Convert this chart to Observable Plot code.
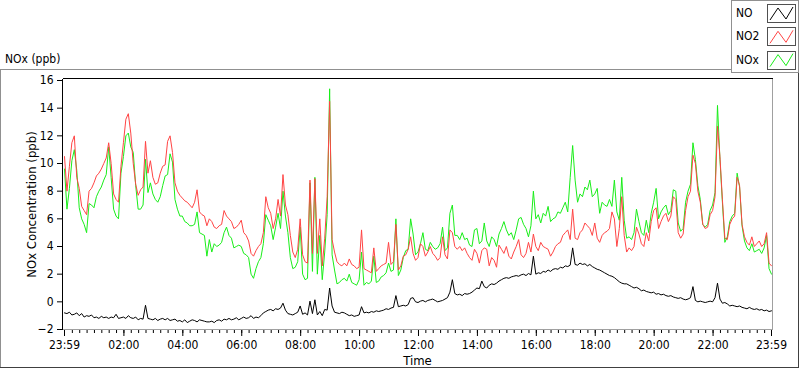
<!DOCTYPE html>
<html><head><meta charset="utf-8">
<script src="https://cdn.jsdelivr.net/npm/d3@7"></script>
<script src="https://cdn.jsdelivr.net/npm/@observablehq/plot@0.6"></script>
<style>html,body{margin:0;padding:0;background:#fff;}</style>
</head><body><div id="chart"></div>
<script>
const FONT = "'Liberation Sans Narrow','DejaVu Sans Condensed',Roboto,sans-serif";
const seriesNames = ["NO", "NO2", "NOx"];
const seriesColors = ["#000000", "#ff4444", "#19ee19"];
const startMinute = -1, stepMinutes = 5;

const NO = [
-0.8,-0.85,-0.75,-0.95,-0.9,-0.8,-1.0,-0.85,-1.1,-1.0,
-1.05,-0.95,-1.15,-1.1,-1.2,-1.05,-1.15,-1.1,-1.2,-1.1,
-1.15,-0.9,-1.2,-1.15,-1.1,-1.2,-1.0,-1.15,-1.2,-1.1,
-1.3,-1.2,-1.25,-0.25,-1.2,-1.25,-1.3,-1.2,-1.35,-1.25,
-1.2,-1.3,-1.2,-1.35,-1.3,-1.25,-1.4,-1.35,-1.45,-1.3,
-1.5,-1.4,-1.3,-1.35,-1.45,-1.3,-1.35,-1.4,-1.45,
-1.45,-1.4,-1.5,-1.35,-1.3,-1.4,-1.25,-1.3,-1.2,-1.3,
-1.25,-1.15,-1.3,-1.2,-1.1,-1.2,-1.15,-1.0,-1.2,-1.1,
-1.15,-1.0,-0.8,-0.7,-0.6,-0.55,-0.65,-0.5,-0.55,-0.45,
-0.1,-0.6,-0.85,-0.9,-0.95,-0.85,-0.75,-0.3,-0.9,-0.8,
-0.95,0.05,-0.85,0.15,-0.95,-0.7,-1.0,-0.55,-0.6,1.0,
-0.3,-0.75,-0.8,-0.85,-0.75,-0.8,
-0.9,-1.0,-0.95,-1.05,-1.0,-0.95,-0.35,-0.8,-0.75,-0.8,
-0.7,-0.75,-0.65,-0.7,-0.65,-0.6,-0.5,-0.55,-0.45,-0.4,
0.45,-0.35,-0.3,-0.25,-0.3,-0.2,0.25,0.3,0.0,-0.05,
0.05,0.1,0.0,0.1,0.15,0.2,0.1,0.0,0.05,0.1,
0.2,0.3,0.7,1.6,0.6,0.5,0.55,0.45,0.6,0.55,
0.6,0.7,0.85,1.0,0.95,1.5,1.1,
1.0,1.2,1.3,1.25,1.35,1.5,1.6,1.7,1.75,1.7,
1.8,1.85,1.9,1.85,1.95,2.0,1.9,2.05,1.95,3.3,
2.0,2.1,2.05,2.2,2.15,2.3,2.2,2.35,2.4,2.35,
2.5,2.45,2.6,2.55,2.65,3.9,2.7,2.65,2.8,2.7,
2.75,2.6,2.7,2.55,2.45,2.35,2.3,2.2,2.1,2.0,
1.9,1.85,1.75,1.6,1.45,1.35,1.3,
1.3,1.2,1.1,1.0,1.05,0.95,0.8,0.85,0.75,0.7,
0.65,0.7,0.55,0.6,0.5,0.55,0.45,0.4,0.45,0.35,
0.3,0.25,0.3,0.2,0.15,0.2,0.3,1.1,0.1,0.0,
0.05,0.0,-0.05,0.0,0.05,0.0,0.3,1.35,0.2,-0.1,
-0.05,-0.15,-0.3,-0.25,-0.3,-0.35,-0.3,-0.4,-0.45,-0.5,
-0.4,-0.5,-0.55,-0.5,-0.6,-0.55,-0.65,-0.6,-0.7,-0.65
];

const NO2 = [
10.5,8.0,9.8,11.5,12.0,9.0,8.2,6.9,6.6,6.3,
8.0,8.2,8.6,9.1,9.3,9.6,10.0,10.4,11.5,10.0,
7.8,7.4,7.2,9.8,11.5,13.2,13.6,12.2,10.0,8.5,
7.7,8.1,8.3,11.6,9.3,10.2,9.0,8.5,8.6,9.3,
9.8,9.9,11.6,12.0,10.8,8.6,8.0,7.7,7.5,7.3,
7.2,7.0,6.8,7.2,8.1,6.5,6.3,6.2,5.5,
6.0,5.8,5.4,5.3,5.5,5.6,6.6,6.2,6.0,5.8,
5.3,5.4,5.6,5.9,5.0,4.8,4.4,3.5,3.3,3.7,
4.0,4.2,5.0,7.6,6.8,6.4,5.3,6.0,7.4,6.2,
9.2,7.0,6.3,4.8,3.6,3.2,3.8,6.0,3.4,2.9,
2.8,8.8,3.5,8.9,3.5,6.0,2.6,4.6,7.6,14.5,
4.5,3.6,2.9,2.7,2.6,2.8,
2.6,3.1,2.7,2.6,2.4,2.5,5.2,2.4,2.3,2.2,
2.1,3.9,2.2,2.4,2.6,2.7,2.8,4.3,2.7,2.9,
5.6,2.3,2.6,3.3,3.4,3.8,4.7,3.5,3.0,3.2,
4.2,4.0,3.3,3.6,4.0,3.5,3.3,3.0,3.2,4.7,
3.4,3.1,5.2,5.0,4.0,3.8,4.0,3.7,3.9,3.5,
3.2,3.0,3.8,3.5,2.8,3.7,3.9,
3.8,2.6,3.2,3.0,2.5,4.1,3.8,3.5,4.0,3.3,
3.1,3.6,4.0,4.5,3.4,3.2,3.5,4.3,3.6,4.9,
4.0,3.7,4.3,4.0,3.9,3.8,3.3,3.6,4.0,4.2,
4.3,4.8,5.0,5.2,4.5,6.7,4.6,4.5,5.0,5.2,
5.7,5.5,5.3,4.8,5.7,4.6,4.3,4.8,5.0,5.1,
5.3,6.5,6.0,4.0,5.3,7.6,4.8,
3.6,3.9,3.7,4.0,5.4,4.9,4.2,4.0,5.0,4.4,
5.8,6.6,6.8,5.3,5.8,6.2,6.4,5.8,6.2,7.6,
7.4,5.0,4.6,4.9,6.6,7.6,8.0,10.6,10.0,8.0,
7.2,5.6,5.3,5.4,6.3,6.6,7.6,12.7,10.5,7.4,
4.6,4.5,5.6,6.0,6.2,9.0,8.4,5.6,4.7,4.3,
4.1,4.7,4.0,4.2,4.4,4.0,4.2,5.0,2.8,2.6
];

const NOx = [
9.6,6.7,8.2,10.2,11.0,9.5,6.8,6.0,5.6,5.0,
7.1,7.0,6.8,7.6,8.0,8.3,8.8,9.2,11.2,9.0,
6.7,6.2,6.0,9.3,10.5,12.0,12.2,11.2,10.8,8.4,
6.7,6.7,7.0,10.3,7.9,8.6,7.8,7.4,7.2,7.6,
8.4,9.1,9.2,10.7,10.1,7.4,6.7,6.2,6.2,5.8,
5.7,5.5,5.5,5.6,6.5,5.0,4.9,4.8,3.3,
4.5,3.6,4.2,4.0,4.1,4.3,5.0,5.4,4.8,4.6,
3.9,4.0,4.1,4.0,3.5,3.4,3.2,2.0,1.7,2.4,
2.9,3.2,4.2,6.3,5.9,5.5,4.5,5.4,6.4,5.3,
8.0,6.2,5.0,3.2,2.4,2.5,2.9,5.4,2.0,1.6,
1.7,8.6,2.2,9.0,2.0,4.8,1.6,3.6,6.3,15.4,
3.4,2.3,1.3,1.4,1.6,1.7,
1.5,2.0,1.4,1.3,1.2,1.6,3.6,1.2,1.4,1.3,
1.5,3.3,1.4,1.5,1.8,1.9,2.1,2.8,2.2,2.3,
6.0,1.9,2.3,3.2,3.7,3.8,6.0,4.9,3.4,3.6,
4.2,5.0,3.8,3.7,4.3,4.0,3.8,3.9,4.2,5.4,
3.7,3.9,6.4,7.0,4.8,4.8,4.5,5.0,4.5,4.6,
4.1,4.0,5.2,5.3,4.2,4.4,5.7,
4.4,4.0,4.7,4.5,4.0,4.9,5.3,5.8,5.2,4.8,
5.0,4.5,5.2,6.0,6.1,5.6,5.3,4.7,5.5,8.0,
6.0,6.3,5.7,6.4,6.2,6.9,5.8,6.0,6.1,6.5,
6.4,6.8,7.2,6.5,9.0,11.3,8.8,7.2,7.8,7.6,
8.3,8.1,8.8,7.6,7.8,8.2,6.4,7.2,7.0,6.9,
7.4,6.9,8.8,6.5,5.9,9.0,5.9,
4.6,4.7,4.5,5.0,6.7,5.8,5.0,4.8,5.9,5.0,
6.4,7.2,8.2,6.0,6.5,6.8,7.0,6.3,6.6,8.1,
8.0,5.7,5.1,5.3,7.2,8.0,8.5,11.5,10.3,8.4,
7.4,5.6,5.4,5.6,6.6,7.0,7.9,14.2,10.3,7.2,
4.3,4.7,5.8,6.2,6.4,9.3,8.3,5.5,4.4,3.9,
3.7,4.2,3.6,3.7,3.8,3.5,3.9,4.8,2.4,2.0
];

const yTicks = [-2, 0, 2, 4, 6, 8, 10, 12, 14, 16];
const xTickMinutes = [-1, 120, 240, 360, 480, 600, 720, 840, 960, 1080, 1200, 1320, 1439];
const xTickLabels = ["23:59","02:00","04:00","06:00","08:00","10:00","12:00","14:00","16:00","18:00","20:00","22:00","23:59"];
const minorTickMinutes = [-1, ...d3.range(15, 1439, 15), 1439];
const labelOf = new Map(xTickMinutes.map((m, i) => [m, xTickLabels[i]]));

const allSeries = [NO, NO2, NOx];
const rowsOf = (k) => allSeries[k].map((v, i) => ({series: seriesNames[k], t: startMinute + i * stepMinutes, v}));

const plot = Plot.plot({
  width: 800, height: 369,
  marginLeft: 64, marginRight: 29, marginTop: 80, marginBottom: 40,
  style: {fontFamily: FONT, fontSize: "12px", background: "white", color: "#000", overflow: "visible"},
  x: {domain: [-1, 1439]},
  y: {domain: [-2, 16]},
  marks: [
    Plot.axisY({ticks: yTicks, tickSize: 5, tickPadding: 4, dx: -2, label: null, fontSize: 12}),
    Plot.axisX({ticks: minorTickMinutes, tickSize: 3, dy: 1, tickFormat: () => "", label: null}),
    Plot.axisX({ticks: xTickMinutes, tickSize: 6, tickPadding: 4, dy: 1, tickFormat: d => labelOf.get(d), label: null, fontSize: 12}),
    Plot.line(rowsOf(2), {x: "t", y: "v", stroke: seriesColors[2], strokeWidth: 1}),
    Plot.line(rowsOf(1), {x: "t", y: "v", stroke: seriesColors[1], strokeWidth: 1}),
    Plot.line(rowsOf(0), {x: "t", y: "v", stroke: seriesColors[0], strokeWidth: 1})
  ]
});

const svg = d3.select(plot);
const xr = plot.scale("x").range, yr = plot.scale("y").range;
const fx0 = xr[0] - 1.5, fx1 = xr[1] + 1.5, fy0 = yr[1] - 1.5, fy1 = yr[0] + 0.5;
const deco = svg.append("g").attr("fill", "none").attr("shape-rendering", "crispEdges");
// plot frame (sunken look)
deco.append("line").attr("x1", fx0).attr("x2", fx1).attr("y1", fy0).attr("y2", fy0).attr("stroke", "#000");
deco.append("line").attr("x1", fx0).attr("x2", fx0).attr("y1", fy0).attr("y2", fy1).attr("stroke", "#000");
deco.append("line").attr("x1", fx1).attr("x2", fx1).attr("y1", fy0).attr("y2", fy1).attr("stroke", "#a0a0a0");
deco.append("line").attr("x1", fx0).attr("x2", fx1).attr("y1", fy1).attr("y2", fy1).attr("stroke", "#a0a0a0");
// outer panel
deco.append("line").attr("x1", 0).attr("x2", 731).attr("y1", 69.5).attr("y2", 69.5).attr("stroke", "#909090");
deco.append("line").attr("x1", 0.5).attr("x2", 0.5).attr("y1", 69).attr("y2", 368).attr("stroke", "#909090");
deco.append("line").attr("x1", 0).attr("x2", 799).attr("y1", 367.5).attr("y2", 367.5).attr("stroke", "#404040");
deco.append("line").attr("x1", 798.5).attr("x2", 798.5).attr("y1", 72).attr("y2", 368).attr("stroke", "#404040");

const txt = svg.append("g").attr("font-family", FONT).attr("font-size", 12).attr("fill", "#000");
txt.append("text").attr("x", 5).attr("y", 63).attr("text-anchor", "start").text("NOx (ppb)");
txt.append("text").attr("transform", `translate(36,${(yr[0] + yr[1]) / 2}) rotate(-90)`).attr("text-anchor", "middle").attr("font-size", 13).text("NOx Concentration (ppb)");
txt.append("text").attr("x", (xr[0] + xr[1]) / 2).attr("y", 365).attr("text-anchor", "middle").attr("font-size", 13).text("Time");

// legend
const lg = svg.append("g");
lg.append("rect").attr("x", 731.5).attr("y", 0.5).attr("width", 67).attr("height", 72).attr("fill", "#fff").attr("stroke", "#909090").attr("shape-rendering", "crispEdges");
seriesNames.forEach((name, k) => {
  const y0 = 4 + k * 23.3;
  lg.append("text").attr("x", 736).attr("y", y0 + 13).attr("text-anchor", "start").attr("font-family", FONT).attr("font-size", 12).text(name);
  lg.append("rect").attr("x", 767.5).attr("y", y0 + 0.5).attr("width", 28).attr("height", 18).attr("fill", "#fff").attr("stroke", "#505050").attr("shape-rendering", "crispEdges");
  lg.append("path").attr("d", `M770,${y0 + 16} L778,${y0 + 4} L786,${y0 + 15} L793,${y0 + 3}`).attr("fill", "none").attr("stroke", seriesColors[k]).attr("stroke-width", 1);
});

document.getElementById("chart").appendChild(plot);
</script>
</body></html>
